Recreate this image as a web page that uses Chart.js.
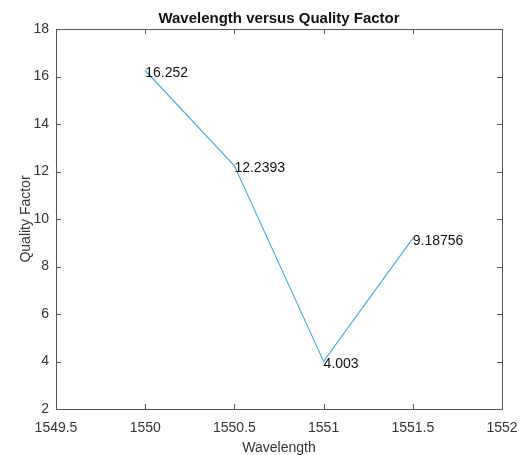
<!DOCTYPE html>
<html>
<head>
<meta charset="utf-8">
<script src="https://cdn.jsdelivr.net/npm/chart.js@4/dist/chart.umd.min.js"></script>
<style>
  html, body { margin: 0; padding: 0; background: #fff; }
  canvas { display: block; }
</style>
</head>
<body>
<canvas id="c" width="526" height="455"></canvas>
<script>
// Measured quality factor at each wavelength
const wavelengths = [1550, 1550.5, 1551, 1551.5];
const qualityFactors = [16.252, 12.2393, 4.003, 9.18756];
const pointLabels = ['16.252', '12.2393', '4.003', '9.18756'];

const xTicks = [1549.5, 1550, 1550.5, 1551, 1551.5, 1552];
const yTicks = [2, 4, 6, 8, 10, 12, 14, 16, 18];

const FONT = '"Liberation Sans", Arial, Helvetica, sans-serif';
const AXIS_COLOR = '#555555';
const TEXT_COLOR = '#333333';

// Box around the axes, inward tick marks, titles and point annotations
const decorations = {
  id: 'decorations',
  afterDraw(chart) {
    const { ctx, chartArea: a, scales } = chart;
    const xs = scales.x, ys = scales.y;
    ctx.save();
    ctx.strokeStyle = AXIS_COLOR;
    ctx.lineWidth = 1;
    ctx.strokeRect(Math.round(a.left) + 0.5, Math.round(a.top) + 0.5,
                   Math.round(a.right - a.left), Math.round(a.bottom - a.top));
    const tl = 5;
    ctx.beginPath();
    xTicks.forEach(v => {
      const px = Math.round(xs.getPixelForValue(v)) + 0.5;
      ctx.moveTo(px, a.bottom); ctx.lineTo(px, a.bottom - tl);
      ctx.moveTo(px, a.top); ctx.lineTo(px, a.top + tl);
    });
    yTicks.forEach(v => {
      const py = Math.round(ys.getPixelForValue(v)) + 0.5;
      ctx.moveTo(a.left, py); ctx.lineTo(a.left + tl, py);
      ctx.moveTo(a.right, py); ctx.lineTo(a.right - tl, py);
    });
    ctx.stroke();

    // point annotations
    ctx.fillStyle = '#111111';
    ctx.font = '14px ' + FONT;
    ctx.textAlign = 'left';
    ctx.textBaseline = 'middle';
    wavelengths.forEach((w, i) => {
      ctx.fillText(pointLabels[i], xs.getPixelForValue(w), ys.getPixelForValue(qualityFactors[i]) + 2.5);
    });

    const cx = (a.left + a.right) / 2;
    // title
    ctx.fillStyle = '#111111';
    ctx.font = 'bold 15px ' + FONT;
    ctx.textAlign = 'center';
    ctx.textBaseline = 'alphabetic';
    ctx.fillText('Wavelength versus Quality Factor', cx, 23);

    // axis titles
    ctx.fillStyle = TEXT_COLOR;
    ctx.font = '14px ' + FONT;
    ctx.fillText('Wavelength', cx, 452);
    ctx.save();
    ctx.translate(30, (a.top + a.bottom) / 2);
    ctx.rotate(-Math.PI / 2);
    ctx.fillText('Quality Factor', 0, 0);
    ctx.restore();
    ctx.restore();
  }
};

new Chart(document.getElementById('c'), {
  type: 'line',
  data: {
    datasets: [{
      data: wavelengths.map((w, i) => ({ x: w, y: qualityFactors[i] })),
      borderColor: '#56a8e0',
      borderWidth: 1.2,
      pointRadius: 0,
      tension: 0,
      fill: false
    }]
  },
  options: {
    responsive: false,
    animation: false,
    layout: { padding: { top: 29, right: 24, left: 0, bottom: 0 } },
    plugins: { legend: { display: false }, title: { display: false }, tooltip: { enabled: false } },
    scales: {
      x: {
        type: 'linear',
        min: 1549.5, max: 1552,
        afterBuildTicks(scale) { scale.ticks = xTicks.map(v => ({ value: v })); },
        afterFit(scale) {
          scale.height = 46;
          scale.paddingLeft = 0;
          scale.paddingRight = 0;
        },
        grid: { display: false, drawTicks: false },
        border: { display: false },
        ticks: {
          padding: 11,
          maxRotation: 0,
          color: TEXT_COLOR,
          font: { family: FONT, size: 14 },
          callback: v => String(v)
        }
      },
      y: {
        type: 'linear',
        min: 2, max: 18,
        afterBuildTicks(scale) { scale.ticks = yTicks.map(v => ({ value: v })); },
        afterFit(scale) {
          scale.width = 56;
          scale.paddingTop = 0;
          scale.paddingBottom = 0;
        },
        grid: { display: false, drawTicks: false },
        border: { display: false },
        ticks: {
          padding: 7,
          color: TEXT_COLOR,
          font: { family: FONT, size: 14 },
          callback: v => String(v)
        }
      }
    }
  },
  plugins: [decorations]
});
</script>
</body>
</html>
